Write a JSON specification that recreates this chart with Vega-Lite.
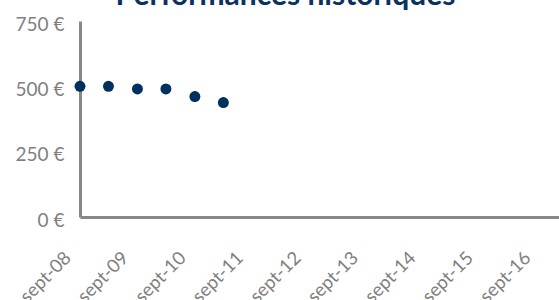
{
  "$schema": "https://vega.github.io/schema/vega-lite/v6.json",
  "width": 479,
  "height": 196,
  "autosize": {"type": "none"},
  "padding": {"left": 80, "top": 21, "right": 0, "bottom": 83},
  "background": "white",
  "title": {
    "text": "Performances historiques",
    "font": "Lato",
    "fontSize": 30,
    "fontWeight": "bold",
    "color": "#0b3160",
    "anchor": "middle",
    "frame": "group",
    "dx": -34,
    "baseline": "alphabetic",
    "offset": -20
  },
  "data": {
    "values": [
      {"date": "2008-09-01", "valeur": 500},
      {"date": "2009-03-01", "valeur": 500},
      {"date": "2009-09-01", "valeur": 490},
      {"date": "2010-03-01", "valeur": 490},
      {"date": "2010-09-01", "valeur": 461},
      {"date": "2011-03-01", "valeur": 438}
    ]
  },
  "mark": {"type": "circle", "size": 120, "color": "#00305f", "opacity": 1},
  "encoding": {
    "x": {
      "field": "date",
      "type": "temporal",
      "scale": {"type": "utc", "domain": [{"year": 2008, "month": 9, "date": 1, "utc": true}, {"year": 2017, "month": 1, "date": 1, "utc": true}]},
      "axis": {
        "title": null,
        "values": [
          {"year": 2008, "month": 9, "date": 1, "utc": true},
          {"year": 2009, "month": 9, "date": 1, "utc": true},
          {"year": 2010, "month": 9, "date": 1, "utc": true},
          {"year": 2011, "month": 9, "date": 1, "utc": true},
          {"year": 2012, "month": 9, "date": 1, "utc": true},
          {"year": 2013, "month": 9, "date": 1, "utc": true},
          {"year": 2014, "month": 9, "date": 1, "utc": true},
          {"year": 2015, "month": 9, "date": 1, "utc": true},
          {"year": 2016, "month": 9, "date": 1, "utc": true}
        ],
        "labelExpr": "'sept-' + utcFormat(datum.value, '%y')",
        "labelAngle": -45,
        "labelPadding": 31,
        "labelOffset": -19,
        "labelFont": "Lato",
        "labelFontSize": 18.5,
        "labelColor": "#7f7f7f",
        "labelOverlap": false,
        "labelFlush": false,
        "ticks": false,
        "grid": false,
        "domainColor": "#888888",
        "domainWidth": 3
      }
    },
    "y": {
      "field": "valeur",
      "type": "quantitative",
      "scale": {"domain": [0, 750], "nice": false},
      "axis": {
        "title": null,
        "values": [0, 250, 500, 750],
        "labelExpr": "datum.value + ' €'",
        "labelPadding": 16,
        "labelOffset": 3,
        "labelFont": "Lato",
        "labelFontSize": 19,
        "labelColor": "#7f7f7f",
        "labelFlush": false,
        "labelOverlap": false,
        "ticks": false,
        "grid": false,
        "domainColor": "#888888",
        "domainWidth": 3
      }
    }
  },
  "config": {"view": {"stroke": null}}
}
